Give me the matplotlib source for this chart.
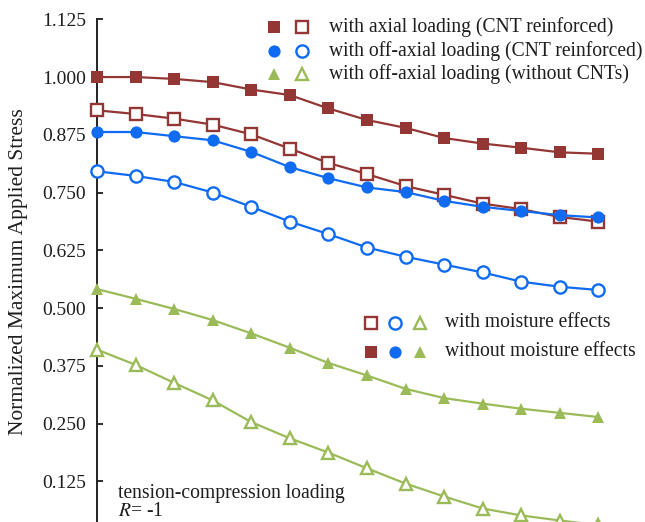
import matplotlib

matplotlib.use("Agg")

import matplotlib.pyplot as plt
from matplotlib.lines import Line2D

plt.rcParams["font.family"] = ["Liberation Serif", "DejaVu Serif"]
plt.rcParams["mathtext.fontset"] = "stix"

# data (x = step index, y = normalized max stress)
step = [0, 1, 2, 3, 4, 5, 6, 7, 8, 9, 10, 11, 12, 13]
axial_dry = [1.000, 1.000, 0.996, 0.989, 0.973, 0.961, 0.932, 0.907, 0.890, 0.868, 0.856, 0.847, 0.837, 0.834]
axial_wet = [0.928, 0.920, 0.910, 0.897, 0.876, 0.845, 0.814, 0.790, 0.764, 0.745, 0.726, 0.714, 0.697, 0.687]
offaxis_dry = [0.881, 0.881, 0.872, 0.863, 0.838, 0.805, 0.781, 0.761, 0.751, 0.732, 0.719, 0.710, 0.701, 0.696]
offaxis_wet = [0.796, 0.786, 0.773, 0.750, 0.719, 0.687, 0.660, 0.631, 0.611, 0.594, 0.577, 0.557, 0.546, 0.539]
plain_dry = [0.541, 0.520, 0.498, 0.474, 0.445, 0.414, 0.381, 0.354, 0.325, 0.305, 0.293, 0.282, 0.273, 0.264]
plain_wet = [0.410, 0.377, 0.338, 0.300, 0.253, 0.218, 0.187, 0.153, 0.120, 0.092, 0.066, 0.051, 0.040, 0.030]
y_ticks = [0.125, 0.250, 0.375, 0.500, 0.625, 0.750, 0.875, 1.000, 1.125]

RED = "#943634"
BLUE = "#0F6BF2"
GREEN = "#9BBB59"
TEXT = "#1e1e1e"

W, H = 645, 522
fig = plt.figure(figsize=(W / 100, H / 100), dpi=100)
fig.patch.set_facecolor("white")


def fx(px):
    return px / W


def fy(py):
    return 1 - py / H


# axes run from y=1.125 (px 19) down to 0 (px 539, below the crop)
ax = fig.add_axes([fx(97), fy(539), fx(540), (539 - 19.3) / H])
ax.set_xlim(0, 14)
ax.set_ylim(0, 1.125)

ms = 8.8
series = [
    (axial_dry, RED, "s", True),
    (axial_wet, RED, "s", False),
    (offaxis_dry, BLUE, "o", True),
    (offaxis_wet, BLUE, "o", False),
    (plain_dry, GREEN, "^", True),
    (plain_wet, GREEN, "^", False),
]
for values, color, marker, filled in series:
    ax.plot(
        step,
        values,
        color=color,
        linewidth=1.6,
        marker=marker,
        markersize=ms,
        markerfacecolor=color if filled else "white",
        markeredgecolor=color,
        markeredgewidth=0 if filled else 1.7,
        clip_on=False,
        zorder=3,
    )

ax.set_yticks(y_ticks)
ax.set_yticklabels([f"{v:.3f}" for v in y_ticks])
ax.set_xticks([])
ax.tick_params(axis="y", direction="in", length=4, width=1.3, pad=8, labelsize=14, colors=TEXT)
for side in ["top", "right"]:
    ax.spines[side].set_visible(False)
ax.spines["left"].set_linewidth(1.4)
ax.spines["left"].set_color("#222")
ax.spines["bottom"].set_linewidth(1.4)

fig.text(fx(19), fy(272), "Normalized Maximum Applied Stress", rotation=90,
         ha="center", va="center", fontsize=15.5, color=TEXT)


def legend_marker(px, py, color, marker, filled, size=ms):
    fig.add_artist(Line2D([fx(px)], [fy(py)], linestyle="none", marker=marker,
                          markersize=size, markerfacecolor=color if filled else "white",
                          markeredgecolor=color, markeredgewidth=0 if filled else 1.7))


# upper legend: loading case
rows_top = [
    (26.7, RED, "s", "with axial loading (CNT reinforced)"),
    (51.0, BLUE, "o", "with off-axial loading (CNT reinforced)"),
    (74.0, GREEN, "^", "with off-axial loading (without CNTs)"),
]
for py, color, marker, label in rows_top:
    legend_marker(274, py, color, marker, True)
    legend_marker(302, py, color, marker, False)
    fig.text(fx(329), fy(py), label, ha="left", va="center", fontsize=14.1, color=TEXT)

# lower legend: moisture
for py, filled, label in [(322.7, False, "with moisture effects"),
                          (351.7, True, "without moisture effects")]:
    legend_marker(371, py, RED, "s", filled)
    legend_marker(395, py, BLUE, "o", filled)
    legend_marker(420, py, GREEN, "^", filled)
    fig.text(fx(445), fy(py), label, ha="left", va="center", fontsize=14.1, color=TEXT)

fig.text(fx(118), fy(498), "tension-compression loading", ha="left", va="baseline",
         fontsize=14.1, color=TEXT)
fig.text(fx(118), fy(516), r"$R$= -1", ha="left", va="baseline", fontsize=14.1, color=TEXT)

fig.savefig("out.png", dpi=100, facecolor="white")
plt.close(fig)
